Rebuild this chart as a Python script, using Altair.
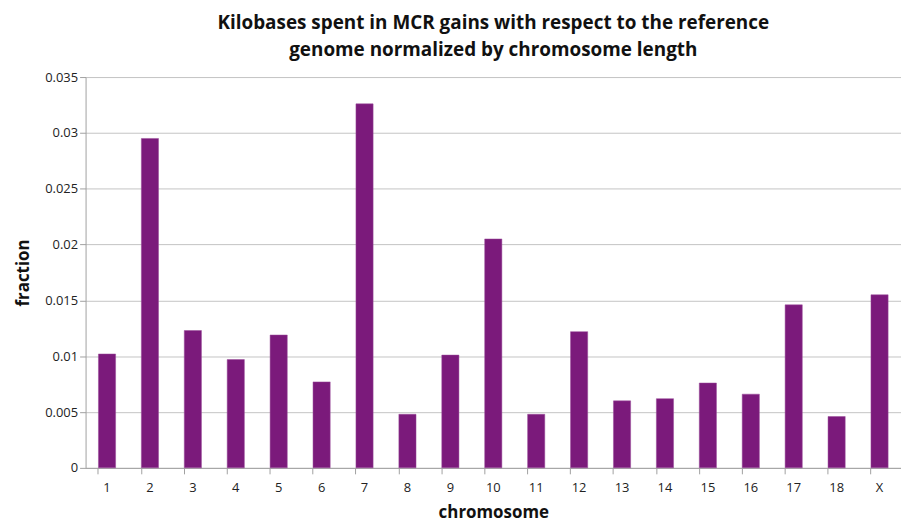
import altair as alt
import pandas as pd

chromosomes = ["1", "2", "3", "4", "5", "6", "7", "8", "9", "10",
               "11", "12", "13", "14", "15", "16", "17", "18", "X"]
fraction = [0.0102, 0.0295, 0.0123, 0.0097, 0.0119, 0.0077, 0.0326, 0.0048, 0.0101, 0.0205,
            0.0048, 0.0122, 0.0060, 0.0062, 0.0076, 0.0066, 0.0146, 0.0046, 0.0155]

df = pd.DataFrame({"chromosome": chromosomes, "fraction": fraction})

FONT = "Open Sans"

chart = alt.Chart(df).mark_bar(color="#7B1A7B", stroke="#9a4a9a", strokeWidth=0.5).encode(
    x=alt.X("chromosome:N", sort=chromosomes,
            scale=alt.Scale(paddingInner=0.6, paddingOuter=0.3),
            axis=alt.Axis(title="chromosome", labelAngle=0, bandPosition=0,
                          labelPadding=8, titlePadding=10)),
    y=alt.Y("fraction:Q", scale=alt.Scale(domain=[0, 0.035], nice=False),
            axis=alt.Axis(title="fraction", values=[0, 0.005, 0.01, 0.015, 0.02, 0.025, 0.03, 0.035],
                          format="~g", titlePadding=12)),
).properties(
    width=820, height=393,
    title=alt.Title(["Kilobases spent in MCR gains with respect to the reference",
                     "genome normalized by chromosome length"],
                    fontSize=19, font=FONT, fontWeight="bold", color="#111111",
                    anchor="middle", offset=11, lineHeight=27),
    padding={"left": 6, "top": 5, "right": 0, "bottom": 0},
).configure_axis(
    labelFont=FONT, titleFont=FONT, labelFontSize=13, titleFontSize=17,
    titleFontWeight="bold", labelColor="#222222", titleColor="#111111",
    domainColor="#a0a0a0", tickColor="#a0a0a0", gridColor="#c4c4c4",
    tickSize=6,
).configure_axisX(grid=False).configure_view(stroke=None)

chart.save("out.html", embed_options={"renderer": "svg", "actions": False})
